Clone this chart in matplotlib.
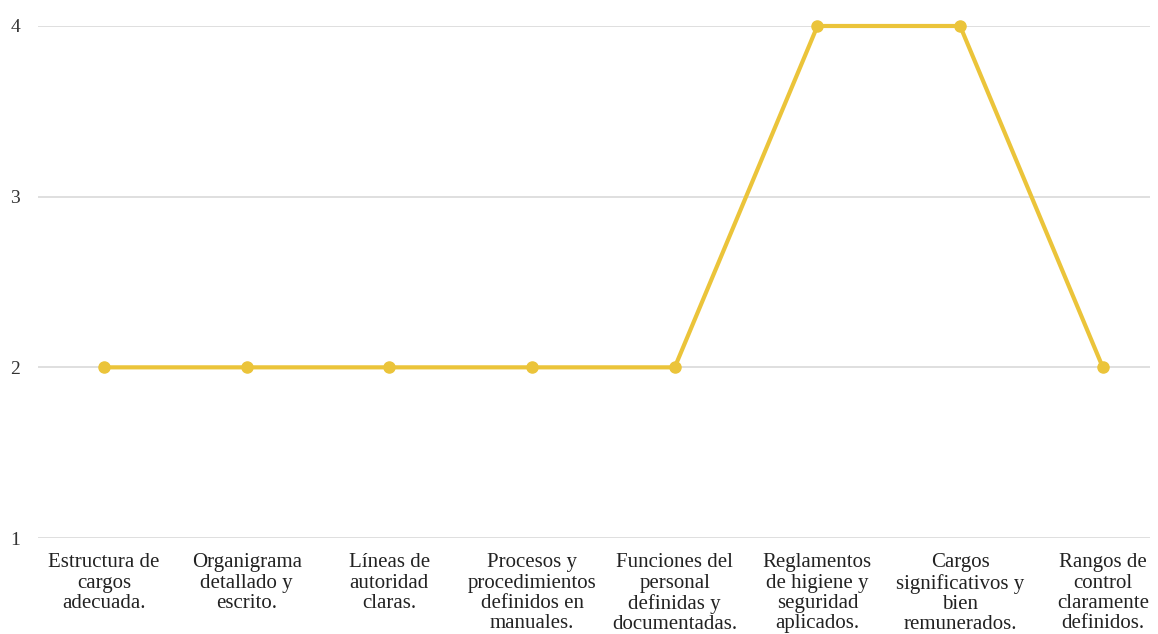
import matplotlib.pyplot as plt

# categorias evaluadas y su puntaje
categorias = [
    "Estructura de\ncargos\nadecuada.",
    "Organigrama\ndetallado y\nescrito.",
    "Líneas de\nautoridad\nclaras.",
    "Procesos y\nprocedimientos\ndefinidos en\nmanuales.",
    "Funciones del\npersonal\ndefinidas y\ndocumentadas.",
    "Reglamentos\nde higiene y\nseguridad\naplicados.",
    "Cargos\nsignificativos y\nbien\nremunerados.",
    "Rangos de\ncontrol\nclaramente\ndefinidos.",
]
puntajes = [2, 2, 2, 2, 2, 4, 4, 2]
marcas_y = [1, 2, 3, 4]

plt.rcParams['font.family'] = ['Liberation Serif', 'DejaVu Serif']

fig = plt.figure(figsize=(11.58, 6.34), dpi=100)
ax = fig.add_axes([0.0328, 0.1514, 0.9602, 0.8076])

color = '#EBC43A'
x = list(range(len(puntajes)))
ax.plot(x, puntajes, color=color, linewidth=3, marker='o', markersize=8,
        clip_on=False, zorder=3)

ax.set_ylim(1, 4)
ax.set_xlim(-0.4625, 7.33)
ax.set_yticks(marcas_y)
ax.set_yticklabels([str(v) for v in marcas_y], fontsize=14, color='#333333')
ax.set_xticks(x)
ax.set_xticklabels(categorias, fontsize=15, color='#222222', linespacing=1.1,
                   va='top')
ax.tick_params(axis='both', length=0)
ax.tick_params(axis='y', pad=20)
ax.tick_params(axis='x', pad=11)
ax.grid(axis='y', color='#d9d9d9', linewidth=1.2)
ax.set_axisbelow(True)
for s in ax.spines.values():
    s.set_visible(False)
for lbl in ax.get_yticklabels():
    lbl.set_horizontalalignment('left')

fig.savefig('out.png', dpi=100)
